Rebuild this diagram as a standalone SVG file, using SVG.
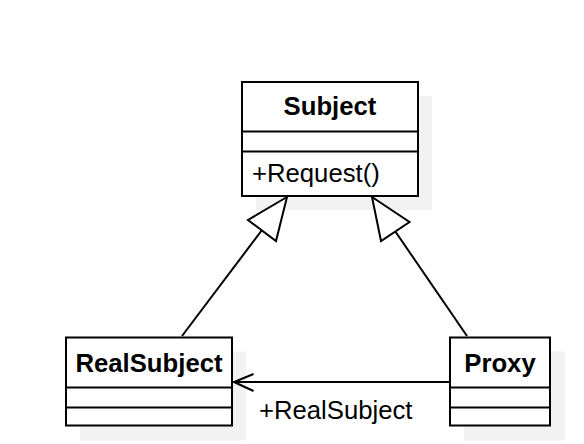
<svg xmlns="http://www.w3.org/2000/svg" width="584" height="444" viewBox="0 0 584 444">
  <style>
    .shadow { fill: #f2f2f2; stroke: none; }
    .box { fill: #ffffff; stroke: #000000; stroke-width: 2; }
    .div { stroke: #000000; stroke-width: 2; fill: none; }
    .edge { stroke: #000000; stroke-width: 2; fill: none; }
    .head { stroke: #000000; stroke-width: 2; fill: #ffffff; stroke-linejoin: miter; }
    .title { font-family: "Liberation Sans", Arial, sans-serif; font-size: 25.7px; font-weight: bold; fill: #000000; text-anchor: middle; }
    .member { font-family: "Liberation Sans", Arial, sans-serif; font-size: 25.7px; fill: #000000; }
  </style>
  <rect width="584" height="444" fill="#ffffff"/>

  <!-- class: Subject -->
  <g id="subject">
    <rect class="shadow" x="256" y="96" width="176" height="114"/>
    <rect class="box" x="242" y="82" width="176" height="114"/>
    <line class="div" x1="242" y1="131.5" x2="418" y2="131.5"/>
    <line class="div" x1="242" y1="151.5" x2="418" y2="151.5"/>
    <text class="title" x="330" y="115">Subject</text>
    <text class="member" x="252" y="182">+Request()</text>
  </g>

  <!-- class: RealSubject -->
  <g id="realsubject">
    <rect class="shadow" x="80" y="351.5" width="166" height="89"/>
    <rect class="box" x="66" y="337.5" width="166" height="88"/>
    <line class="div" x1="66" y1="387.5" x2="232" y2="387.5"/>
    <line class="div" x1="66" y1="407.5" x2="232" y2="407.5"/>
    <text class="title" x="149" y="372">RealSubject</text>
  </g>

  <!-- class: Proxy -->
  <g id="proxy">
    <rect class="shadow" x="464" y="351.5" width="101" height="89"/>
    <rect class="box" x="450" y="337.5" width="100" height="88"/>
    <line class="div" x1="450" y1="387.5" x2="550" y2="387.5"/>
    <line class="div" x1="450" y1="407.5" x2="550" y2="407.5"/>
    <text class="title" x="500" y="372">Proxy</text>
  </g>

  <!-- connectors -->
  <g id="connectors">
    <!-- RealSubject generalizes Subject -->
    <line class="edge" x1="182" y1="336" x2="262" y2="230"/>
    <polygon class="head" points="287,197 248,220 276,241"/>
    <!-- Proxy generalizes Subject -->
    <line class="edge" x1="467" y1="336" x2="395" y2="231"/>
    <polygon class="head" points="372,197 409.5,222 381,241"/>
    <!-- Proxy to RealSubject association -->
    <line class="edge" x1="450" y1="382" x2="234" y2="382"/>
    <polyline class="edge" points="253.5,374 234,382 253.5,391"/>
    <text class="member" x="259" y="419">+RealSubject</text>
  </g>
</svg>
